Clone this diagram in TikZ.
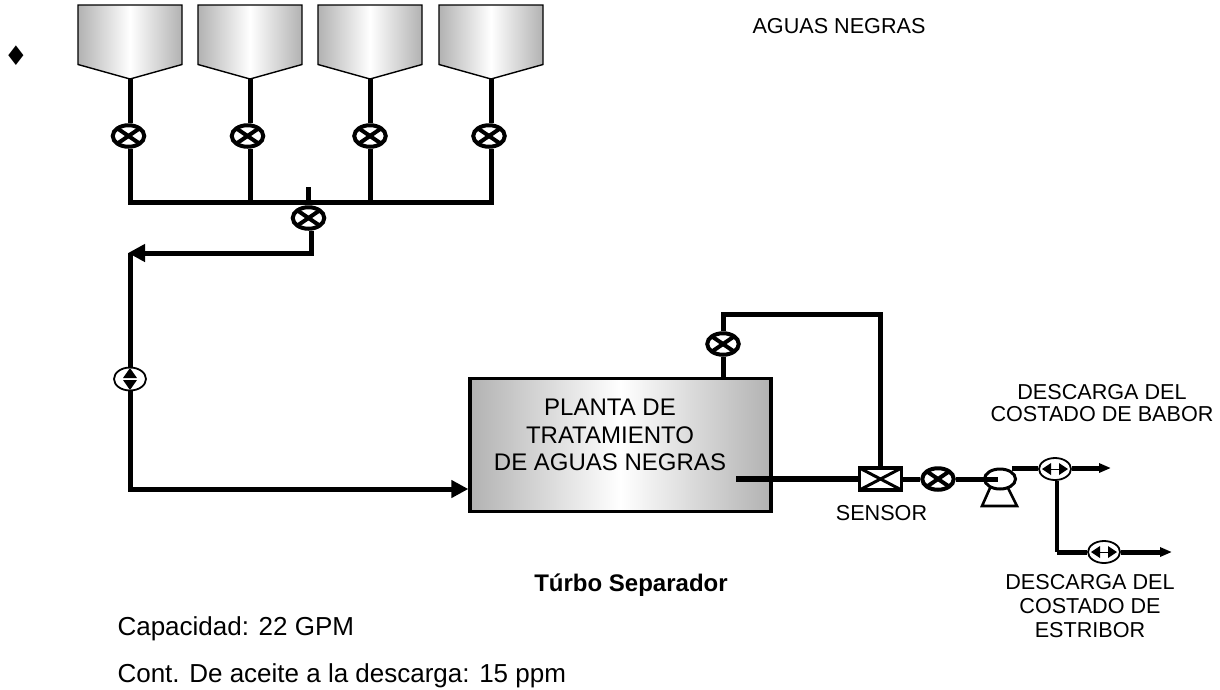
\documentclass[tikz,border=0pt]{standalone}
\usepackage{xcolor}
\usepackage{fontspec}
\setmainfont{Liberation Sans}
\newfontfamily\symfont{DejaVu Sans}
\usetikzlibrary{arrows.meta,positioning,calc,shapes.geometric}
\definecolor{steelgray}{HTML}{B2B2B2}
\newcommand{\txt}[2]{\fontsize{#1}{#2}\selectfont}
\begin{document}
\begin{tikzpicture}[x=1pt,y=-1pt,every node/.style={align=center},
pipe/.style={line width=5pt,black},
thinpipe/.style={line width=4.4pt,black},
pipeflow/.style={line width=5pt,black,-{Triangle[length=17pt,width=17pt]}},
pipeout/.style={line width=5pt,black,-{Triangle[length=12pt,width=9pt]}},
tankbody/.style={draw=black,line width=1.4pt,left color=steelgray,right color=steelgray,middle color=white},
valve/.style={ellipse,draw=black,line width=4pt,fill=white,inner sep=0pt,minimum width=31.5pt,minimum height=21.5pt,path picture={
\draw[line width=4pt] (path picture bounding box.north west)--(path picture bounding box.south east);
\draw[line width=4pt] (path picture bounding box.north east)--(path picture bounding box.south west);}},
checkh/.style={ellipse,draw=black,line width=1.8pt,fill=white,inner sep=0pt,minimum width=32pt,minimum height=22pt,path picture={
\fill[black] ($(path picture bounding box.center)+(-13,0)$)--++(9,-6)--++(0,12)--cycle;
\fill[black] ($(path picture bounding box.center)+(13,0)$)--++(-9,-6)--++(0,12)--cycle;
\draw[black,line width=1pt] ($(path picture bounding box.center)+(-5,0)$)--++(10,0);}},
checkv/.style={ellipse,draw=black,line width=1.8pt,fill=white,inner sep=0pt,minimum width=32pt,minimum height=23pt,path picture={
\fill[black] ($(path picture bounding box.center)+(0,-1)$)--++(-7,0)--++(7,-10)--++(7,10)--cycle;
\fill[black] ($(path picture bounding box.center)+(0,1)$)--++(-7,0)--++(7,10)--++(7,-10)--cycle;}},
label text/.style={font=\txt{21.6}{22}},
note text/.style={font=\txt{26}{30},anchor=base west}]
\useasboundingbox (0,0) rectangle (1220,689);
% tanks
\foreach \tx/\tname in {78/tanka,198/tankb,318/tankc,439/tankd}{
\draw[tankbody] (\tx,5)--++(104,0)--++(0,59.5)--++(-52,14.5)--++(-52,-14.5)--cycle;
\coordinate (\tname) at (\tx+52,79);}
\node[valve] (vala) at (128.5,136) {};
\node[valve] (valb) at (247.5,136) {};
\node[valve] (valc) at (370,136) {};
\node[valve] (vald) at (489,136) {};
\node[valve] (valmain) at (308.5,218) {};
\node[checkv] (chkin) at (130,379) {};
% plant
\node[draw=black,line width=3.3pt,left color=steelgray,right color=steelgray,middle color=white,minimum width=301pt,minimum height=133pt] (plant) at (620.5,445) {};
\node[font=\txt{24}{27.5}] (planttxt) at (610,435) {PLANTA DE\\ TRATAMIENTO\\ DE AGUAS NEGRAS};
\node[valve] (valtop) at (723,344) {};
\node[draw=black,line width=3.6pt,fill=white,minimum width=42pt,minimum height=22pt,inner sep=0pt,path picture={
\draw[line width=3pt] (path picture bounding box.north west)--(path picture bounding box.south east);
\draw[line width=3pt] (path picture bounding box.north east)--(path picture bounding box.south west);}] (sensor) at (880.5,479) {};
\node[valve] (valout) at (938,479) {};
\node[ellipse,draw=black,line width=3pt,fill=white,minimum width=31pt,minimum height=20pt,inner sep=0pt] (pump) at (1000,479) {};
\node[checkh] (chkbabor) at (1055,469) {};
\node[checkh] (chkestr) at (1104,552) {};
\coordinate (outstart) at (736,479);
\coordinate (topright) at (880,314);
\coordinate (topleft) at (723,314);
\coordinate (headl) at (130,202.5);
\coordinate (headr) at (491,202.5);
\coordinate (stub) at (308.5,187);
\coordinate (retl) at (128,253);
\coordinate (retr) at (311,253);
\coordinate (feedl) at (130,489);
\coordinate (pumpout) at (1012,468);
\coordinate (babor) at (1111,468);
\coordinate (estrl) at (1057,552);
\coordinate (estribor) at (1172,552);
\coordinate (pumpin) at (998,479);
\coordinate (basel) at (982,506);
\coordinate (baser) at (1017,506);
\coordinate (basetl) at (990,488);
\coordinate (basetr) at (1008,488);
% pipes
\draw[pipe] (tanka)--(tanka|-vala.north);
\draw[pipe] (tankb)--(tankb|-valb.north);
\draw[pipe] (tankc)--(tankc|-valc.north);
\draw[pipe] (tankd)--(tankd|-vald.north);
\draw[pipe] (tanka|-vala.south)--(headl);
\draw[pipe] (tankb|-valb.south)--(tankb|-headl);
\draw[pipe] (tankc|-valc.south)--(tankc|-headl);
\draw[pipe] (tankd|-vald.south)--(headr);
\draw[pipe,line cap=rect] (headl)--(headr);
\draw[thinpipe] (stub)--(valmain);
\draw[pipeflow] (valmain.south-|retr)--(retr)--(retl);
\draw[pipe] (retl-|chkin)--(chkin);
\draw[pipeflow] (chkin)--(feedl)--(plant.west|-feedl);
\draw[pipe] (plant.north-|valtop)--(valtop);
\draw[pipe,line join=miter] (valtop)--(topleft)--(topright)--(sensor.north-|topright);
\draw[line width=6pt] (outstart)--(sensor);
\draw[pipe] (sensor)--(valout);
\draw[pipe] (valout)--(pump);
\draw[pipe] (pump.west)--(pumpin);
\draw[pipe] (pumpout)--(chkbabor.west|-pumpout);
\draw[pipeout] (chkbabor.east|-pumpout)--(babor);
\draw[thinpipe] (chkbabor.south-|estrl)--(estrl);
\draw[pipe] (estrl)--(chkestr);
\draw[pipeout] (chkestr)--(estribor);
\draw[line width=2.6pt] (basetl)--(basel)--(baser)--(basetr);
% labels
\node[font=\symfont\txt{27}{27}] (bullet) at (16,56) {♦};
\node[label text,anchor=base] (titulo) at (839,33) {AGUAS NEGRAS};
\node[label text,anchor=base] (sensortxt) at (881.5,520) {SENSOR};
\node[label text] (babortxt) at (1102,403) {DESCARGA DEL\\ COSTADO DE BABOR};
\node[font=\txt{21.6}{24}] (estrtxt) at (1090,606) {DESCARGA DEL\\ COSTADO DE\\ ESTRIBOR};
\node[font=\bfseries\txt{24}{24},anchor=base] (turbo) at (631,591) {Túrbo Separador};
\node[note text] (capac) at (114,635) {Capacidad: 22 GPM};
\node[note text] (cont) at (114,682) {Cont. De aceite a la descarga: 15 ppm};
\end{tikzpicture}
\end{document}
